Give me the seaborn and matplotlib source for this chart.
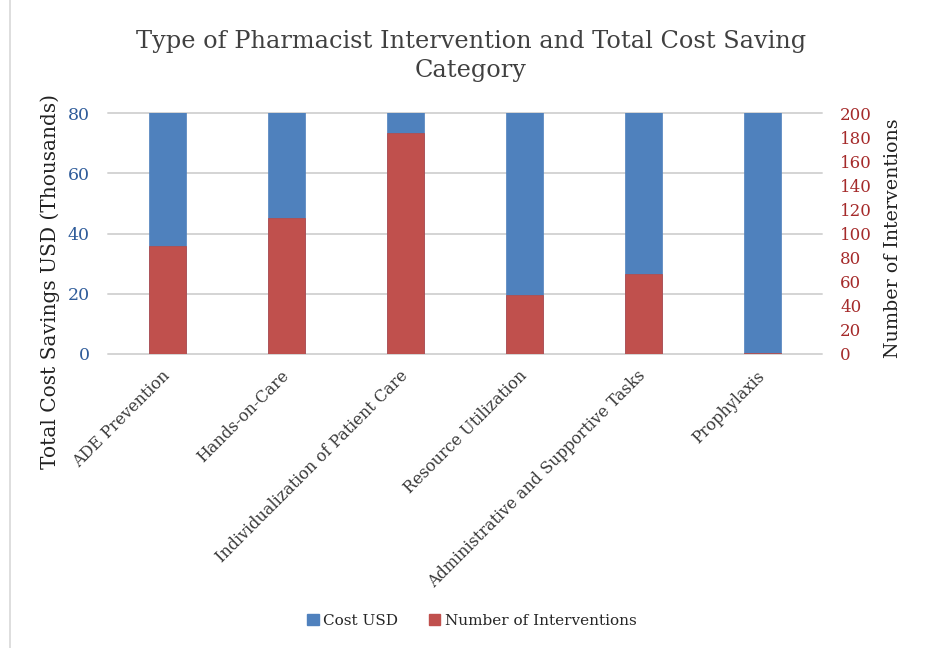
import matplotlib
matplotlib.use("Agg")
import matplotlib.pyplot as plt
import seaborn as sns
import pandas as pd
from matplotlib.patches import Patch, Rectangle

categories = ["ADE Prevention", "Hands-on-Care", "Individualization of Patient Care",
              "Resource Utilization", "Administrative and Supportive Tasks", "Prophylaxis"]
# Cost values exceed the 80k axis limit in the reference (bars are clipped at the top)
cost_usd_thousands = [150, 120, 200, 130, 110, 160]
num_interventions = [90, 113, 183, 49, 66, 1]
left_ticks = [0, 20, 40, 60, 80]
right_ticks = list(range(0, 201, 20))

sns.set_theme(style="white")
plt.rcParams['font.family'] = ['DejaVu Serif']

df = pd.DataFrame({"cat": categories, "cost": cost_usd_thousands, "n": num_interventions})

blue = "#4F81BD"
red = "#C0504D"

fig = plt.figure(figsize=(9.29, 6.48), dpi=100)
ax = fig.add_axes([108/929, 1-354/648, (822-108)/929, (354-113)/648])
sns.barplot(data=df, x="cat", y="cost", color=blue, width=0.31, ax=ax,
            saturation=1, edgecolor=blue, linewidth=0.5)
ax.set_ylim(0, 80)
ax.set_xlim(-0.5, 5.5)
ax.set_yticks(left_ticks)
ax.yaxis.grid(True, color="#D4D4D4", linewidth=1.4)
for gl in ax.get_ygridlines():
    gl.set_clip_on(False)
ax.set_axisbelow(True)
for s in ax.spines.values():
    s.set_visible(False)
ax.tick_params(axis='y', colors="#2F5C9A", labelsize=12.5, length=0, pad=13)
ax.tick_params(axis='x', length=0, labelsize=11.5, pad=14)
ax.set_xticks(range(len(categories)))
ax.set_xticklabels(categories, rotation=45, ha="right", va="center",
                   rotation_mode="anchor", color="#3a3a3a")
ax.set_xlabel("")
ax.set_ylabel("")
fig.text(50/929, 1-282/648, "Total Cost Savings USD (Thousands)", rotation=90,
         ha="center", va="center", fontsize=14.5, color="#222222")

ax2 = ax.twinx()
sns.barplot(data=df, x="cat", y="n", color=red, width=0.31, ax=ax2,
            saturation=1, edgecolor="#B84A47", linewidth=0.5)
ax2.set_ylim(0, 200)
ax2.set_xlim(-0.5, 5.5)
ax2.set_yticks(right_ticks)
for s in ax2.spines.values():
    s.set_visible(False)
ax2.tick_params(axis='y', colors="#A52A2A", labelsize=12, length=0, pad=13)
ax2.set_ylabel("")
ax2.set_xlabel("")
ax2.grid(False)
fig.text(893/929, 1-238/648, "Number of Interventions", rotation=90,
         ha="center", va="center", fontsize=13.7, color="#222222")

fig.text(471/929, 1-56/648, "Type of Pharmacist Intervention and Total Cost Saving\nCategory",
         ha="center", va="center", fontsize=17.3, color="#404040", linespacing=1.3)

handles = [Patch(facecolor=blue, edgecolor=blue, label="Cost USD"),
           Patch(facecolor=red, edgecolor=red, label="Number of Interventions")]
fig.legend(handles=handles, loc="center", bbox_to_anchor=(472/929, 1-621/648), ncol=2,
           frameon=False, fontsize=11, handlelength=0.75, handleheight=0.75,
           handletextpad=0.3, columnspacing=2.0)

fig.patches.append(Rectangle((10/929, -0.01), 1.5, 1.5, transform=fig.transFigure,
                             fill=False, edgecolor="#D8D8D8", linewidth=1.2))

fig.savefig("out.png", dpi=100)
